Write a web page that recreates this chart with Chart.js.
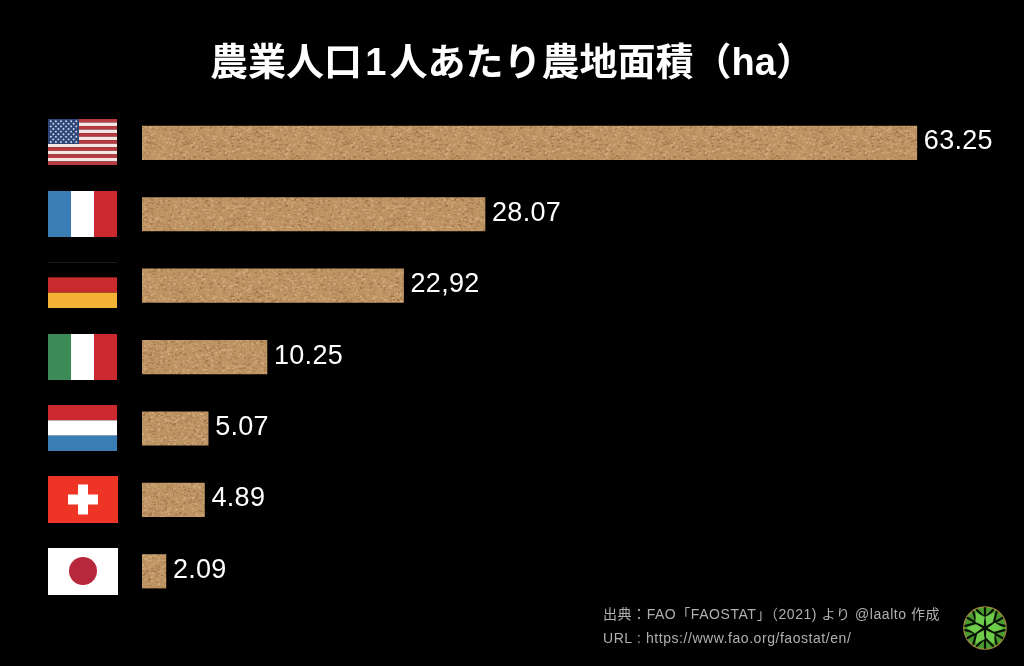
<!DOCTYPE html>
<html lang="ja">
<head>
<meta charset="utf-8">
<title>農業人口1人あたり農地面積</title>
<script src="https://cdn.jsdelivr.net/npm/chart.js@4/dist/chart.umd.min.js"></script>
<style>
    html, body { margin: 0; padding: 0; background: #000; }
    #chartBox { width: 1024px; height: 666px; }
</style>
</head>
<body>
<div id="chartBox"><canvas id="farmChart"></canvas></div>
<script>
"use strict";

const countries = ["USA", "France", "Germany", "Italy", "Netherlands", "Switzerland", "Japan"];
// bar lengths as drawn in the picture, they differ a little from the printed numbers (Germany most)
const barLengths = [63.25, 28.0, 21.35, 10.2, 5.4, 5.1, 1.95];
const valueLabels = ["63.25", "28.07", "22,92", "10.25", "5.07", "4.89", "2.09"];
const titleText = "農業人口\u200A1\u200A人あたり農地面積（ha）";
const sourceLines = ["出典：FAO「FAOSTAT」（2021) より @laalto 作成", "URL : https://www.fao.org/faostat/en/"];

const FLAG_X = 48;
const FLAG_W = 69;
const FLAG_H = 46;
const MIXED_FONT = '"Liberation Sans", "Noto Sans CJK JP", sans-serif';

// cork look for the bars, fixed seed so every run gives the same tile
function makeCorkPattern() {
    const tile = document.createElement("canvas");
    tile.width = 160;
    tile.height = 160;
    const c = tile.getContext("2d");
    let seed = 12345;
    const next = () => {
        seed = (seed * 1664525 + 1013904223) % 4294967296;
        return seed / 4294967296;
    };
    c.fillStyle = "#bd9464";
    c.fillRect(0, 0, 160, 160);
    for (let i = 0; i < 4200; i++) {
        const pick = next();
        if (pick < 0.45) c.fillStyle = "rgba(218,178,134,0.5)";
        else if (pick < 0.85) c.fillStyle = "rgba(165,120,76,0.45)";
        else c.fillStyle = "rgba(135,92,50,0.35)";
        c.fillRect(Math.floor(next() * 160), Math.floor(next() * 160), 1 + Math.floor(next() * 3), 1 + Math.floor(next() * 2));
    }
    return document.createElement("canvas").getContext("2d").createPattern(tile, "repeat");
}

function bands(ctx, top, colors, dir) {
    colors.forEach((color, i) => {
        ctx.fillStyle = color;
        if (dir === "v") {
            const w = FLAG_W / colors.length;
            ctx.fillRect(FLAG_X + i * w, top, w, FLAG_H);
        } else {
            const h = FLAG_H / colors.length;
            ctx.fillRect(FLAG_X, top + i * h, FLAG_W, h);
        }
    });
}

const flagPainters = {
    USA(ctx, top) {
        const stripes = [];
        for (let i = 0; i < 13; i++) stripes.push(i % 2 ? "#f6e6e4" : "#b93a40");
        bands(ctx, top, stripes, "h");
        ctx.fillStyle = "#2f4678";
        ctx.fillRect(FLAG_X, top, 31, 25);
        ctx.fillStyle = "#d5dcea";
        for (let r = 0; r < 9; r++) {
            const count = r % 2 ? 5 : 6;
            for (let s = 0; s < count; s++) {
                const x = FLAG_X + 2.8 + s * 5.1 + (r % 2 ? 2.5 : 0);
                ctx.beginPath();
                ctx.arc(x, top + 2.2 + r * 2.6, 0.95, 0, Math.PI * 2);
                ctx.fill();
            }
        }
    },
    France(ctx, top) {
        bands(ctx, top, ["#3a7db5", "#ffffff", "#c9292f"], "v");
    },
    Germany(ctx, top) {
        bands(ctx, top, ["#000000", "#c82a2e", "#f5b335"], "h");
        ctx.fillStyle = "#1c1c1c";
        ctx.fillRect(FLAG_X, top, FLAG_W, 1);
    },
    Italy(ctx, top) {
        bands(ctx, top, ["#3c8a55", "#ffffff", "#c9292f"], "v");
    },
    Netherlands(ctx, top) {
        bands(ctx, top, ["#c9292f", "#ffffff", "#3a7db5"], "h");
    },
    Switzerland(ctx, top) {
        ctx.fillStyle = "#ee3424";
        ctx.fillRect(FLAG_X, top, FLAG_W + 1, FLAG_H + 1);
        ctx.fillStyle = "#ffffff";
        ctx.fillRect(FLAG_X + 20, top + 18.5, 30, 10);
        ctx.fillRect(FLAG_X + 30, top + 8.5, 10, 30);
    },
    Japan(ctx, top) {
        ctx.fillStyle = "#ffffff";
        ctx.fillRect(FLAG_X, top, FLAG_W + 1, FLAG_H + 1);
        ctx.fillStyle = "#b8283c";
        ctx.beginPath();
        ctx.arc(FLAG_X + 35, top + 23, 14, 0, Math.PI * 2);
        ctx.fill();
    }
};

function drawLogo(ctx, cx, cy) {
    ctx.save();
    ctx.translate(cx, cy);
    ctx.fillStyle = "#4a9c30";
    ctx.strokeStyle = "#a08a3c";
    ctx.lineWidth = 1.2;
    ctx.beginPath();
    ctx.arc(0, 0, 21.2, 0, Math.PI * 2);
    ctx.fill();
    ctx.stroke();
    ctx.strokeStyle = "#071005";
    ctx.lineCap = "round";
    for (let i = 0; i < 6; i++) {
        ctx.save();
        ctx.rotate(i * Math.PI / 3);
        // dark spoke with a fork near the rim
        ctx.lineWidth = 2.2;
        ctx.beginPath();
        ctx.moveTo(0, 0);
        ctx.lineTo(0, -20);
        ctx.moveTo(0, -10);
        ctx.lineTo(8, -18);
        ctx.moveTo(0, -10);
        ctx.lineTo(-8, -18);
        ctx.stroke();
        ctx.restore();

        ctx.save();
        ctx.rotate(i * Math.PI / 3 + Math.PI / 6);
        ctx.fillStyle = "#6fcb4a";
        ctx.beginPath();
        ctx.moveTo(0, -3);
        ctx.lineTo(5.4, -10);
        ctx.lineTo(0, -18);
        ctx.lineTo(-5.4, -10);
        ctx.closePath();
        ctx.fill();
        ctx.restore();
    }
    ctx.restore();
}

const decorations = {
    id: "decorations",
    afterDatasetsDraw(chart) {
        const ctx = chart.ctx;
        const yScale = chart.scales.y;
        const bars = chart.getDatasetMeta(0).data;

        countries.forEach((name, i) => {
            const cy = yScale.getPixelForValue(i);
            flagPainters[name](ctx, Math.floor(cy - FLAG_H / 2));
        });

        ctx.textBaseline = "middle";
        ctx.textAlign = "left";
        ctx.fillStyle = "#ffffff";
        ctx.font = '27px "Liberation Sans", sans-serif';
        ctx.letterSpacing = "0.3px";
        bars.forEach((bar, i) => ctx.fillText(valueLabels[i], bar.x + 7, bar.y - 1));

        ctx.fillStyle = "#b0b0b0";
        ctx.font = "14px " + MIXED_FONT;
        ctx.letterSpacing = "0.55px";
        ctx.fillText(sourceLines[0], 603, 615);
        ctx.fillText(sourceLines[1], 603, 639);
        ctx.letterSpacing = "0px";

        drawLogo(ctx, 985, 628);
    }
};

const chartCtx = document.getElementById("farmChart");

new Chart(chartCtx, {
    type: "bar",
    data: {
        labels: countries,
        datasets: [{
            data: barLengths,
            backgroundColor: makeCorkPattern(),
            borderWidth: 0,
            barThickness: 33.5
        }]
    },
    options: {
        indexAxis: "y",
        responsive: true,
        maintainAspectRatio: false,
        animation: false,
        layout: { padding: { top: 42, bottom: 59, left: 0, right: 0 } },
        plugins: {
            legend: { display: false },
            tooltip: { enabled: false },
            title: {
                display: true,
                text: titleText,
                color: "#ffffff",
                font: { family: MIXED_FONT, size: 38, weight: "bold", lineHeight: 1.2 },
                padding: { top: 0, bottom: 19.5 }
            }
        },
        scales: {
            x: { display: false, min: 0, max: 72 },
            y: {
                ticks: { display: false },
                grid: { display: false },
                border: { display: false },
                afterFit(scale) { scale.width = 142; }
            }
        }
    },
    plugins: [decorations]
});
</script>
</body>
</html>
